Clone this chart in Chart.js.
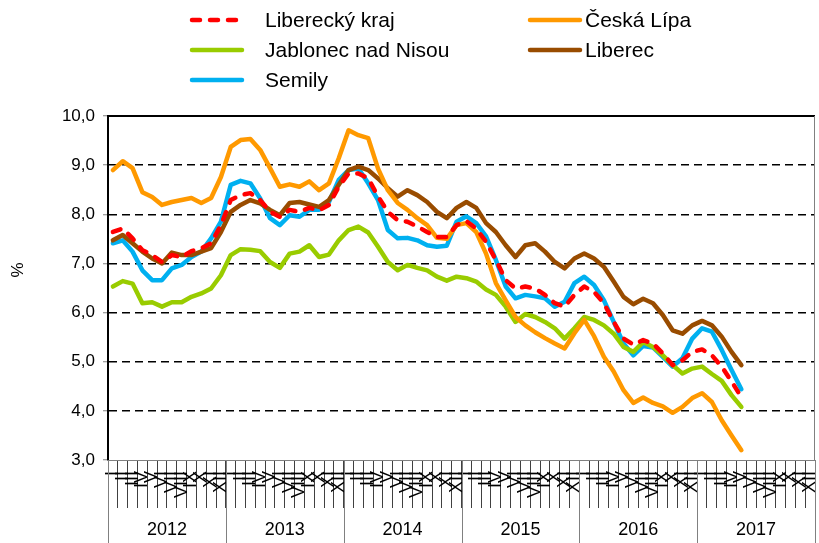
<!DOCTYPE html>
<html>
<head>
<meta charset="utf-8">
<script src="https://cdn.jsdelivr.net/npm/chart.js@4.4.1/dist/chart.umd.min.js"></script>
<style>
  html, body { margin: 0; padding: 0; background: #fff; }
  canvas { display: block; }
</style>
</head>
<body>
<canvas id="chart" width="819" height="543"></canvas>
<script>
// monthly values Jan 2012 - May 2017 (%)
const years = ['2012', '2013', '2014', '2015', '2016', '2017'];
const months = ['I', 'II', 'III', 'IV', 'V', 'VI', 'VII', 'VIII', 'IX', 'X', 'XI', 'XII'];
const yTicks = [3, 4, 5, 6, 7, 8, 9, 10];

const libereckyKraj = [
  7.64, 7.71, 7.51, 7.27, 7.17, 7.03, 7.17, 7.13, 7.25, 7.31, 7.41, 7.78,
  8.29, 8.39, 8.43, 8.29, 8.05, 7.95, 8.09, 8.05, 8.13, 8.08, 8.19, 8.56,
  8.83, 8.83, 8.73, 8.36, 8.05, 7.88, 7.85, 7.75, 7.64, 7.54, 7.54, 7.78,
  7.86, 7.71, 7.44, 7.07, 6.66, 6.49, 6.53, 6.49, 6.36, 6.19, 6.12, 6.36,
  6.53, 6.42, 6.19, 5.81, 5.47, 5.35, 5.44, 5.37, 5.17, 4.93, 5.03, 5.20,
  5.25, 5.13, 4.90, 4.60, 4.28
];
const ceskaLipa = [
  8.90, 9.08, 8.94, 8.45, 8.35, 8.19, 8.25, 8.29, 8.33, 8.23, 8.33, 8.76,
  9.37, 9.51, 9.53, 9.31, 8.94, 8.56, 8.61, 8.56, 8.67, 8.49, 8.63, 9.14,
  9.71, 9.61, 9.55, 8.93, 8.49, 8.23, 8.09, 7.92, 7.78, 7.52, 7.50, 7.78,
  7.82, 7.64, 7.20, 6.60, 6.25, 5.91, 5.74, 5.60, 5.48, 5.37, 5.27, 5.58,
  5.85, 5.52, 5.10, 4.80, 4.42, 4.16, 4.27, 4.16, 4.09, 3.96, 4.08, 4.26,
  4.36, 4.18, 3.81, 3.50, 3.20
];
const jablonec = [
  6.53, 6.64, 6.59, 6.19, 6.21, 6.12, 6.21, 6.21, 6.32, 6.39, 6.49, 6.76,
  7.17, 7.29, 7.28, 7.25, 7.03, 6.91, 7.20, 7.24, 7.37, 7.13, 7.18, 7.47,
  7.68, 7.75, 7.63, 7.34, 7.03, 6.86, 6.97, 6.91, 6.86, 6.73, 6.65, 6.73,
  6.70, 6.63, 6.47, 6.36, 6.12, 5.81, 5.97, 5.91, 5.81, 5.68, 5.47, 5.68,
  5.91, 5.85, 5.74, 5.57, 5.30, 5.20, 5.40, 5.30, 5.13, 4.93, 4.76, 4.86,
  4.90, 4.75, 4.61, 4.32, 4.08
];
const liberec = [
  7.47, 7.58, 7.41, 7.24, 7.10, 7.00, 7.22, 7.17, 7.17, 7.24, 7.31, 7.64,
  8.05, 8.19, 8.29, 8.22, 8.09, 7.98, 8.23, 8.25, 8.20, 8.15, 8.29, 8.60,
  8.90, 8.97, 8.90, 8.73, 8.53, 8.36, 8.49, 8.39, 8.25, 8.05, 7.92, 8.13,
  8.25, 8.13, 7.82, 7.64, 7.37, 7.13, 7.37, 7.41, 7.24, 7.03, 6.90, 7.10,
  7.20, 7.10, 6.93, 6.63, 6.32, 6.17, 6.28, 6.19, 5.95, 5.64, 5.57, 5.74,
  5.83, 5.74, 5.51, 5.20, 4.93
];
const semily = [
  7.41, 7.47, 7.24, 6.86, 6.66, 6.66, 6.90, 6.97, 7.13, 7.24, 7.51, 7.85,
  8.60, 8.68, 8.63, 8.32, 7.92, 7.78, 7.98, 7.95, 8.09, 8.09, 8.25, 8.70,
  8.90, 8.93, 8.63, 8.29, 7.68, 7.51, 7.52, 7.47, 7.37, 7.34, 7.36, 7.85,
  7.96, 7.82, 7.55, 7.07, 6.53, 6.29, 6.36, 6.33, 6.29, 6.12, 6.22, 6.60,
  6.73, 6.56, 6.25, 5.81, 5.37, 5.13, 5.32, 5.29, 5.10, 4.90, 5.07, 5.47,
  5.68, 5.61, 5.24, 4.83, 4.44
];

const labels = years.flatMap(() => months);
const FONT = '"Liberation Sans", Arial, sans-serif';
Chart.defaults.font.family = FONT;
Chart.defaults.color = '#000';

function series(label, data, color, dash) {
  return {
    label, data,
    borderColor: color,
    backgroundColor: color,
    borderWidth: 4.5,
    borderDash: dash || [],
    borderCapStyle: 'round',
    borderJoinStyle: 'round',
    pointRadius: 0,
    tension: 0,
    fill: false
  };
}

// legend in two columns, like the original
const legendPlugin = {
  id: 'colLegend',
  afterDraw(chart) {
    const ctx = chart.ctx;
    const slots = [[190, 20], [528, 20], [190, 50], [528, 50], [190, 80]];
    ctx.save();
    ctx.font = '21px ' + FONT;
    ctx.textBaseline = 'middle';
    chart.data.datasets.forEach((ds, i) => {
      const [x, y] = slots[i];
      ctx.strokeStyle = ds.borderColor;
      ctx.lineWidth = 4.5;
      ctx.lineCap = 'round';
      ctx.setLineDash(ds.borderDash);
      ctx.beginPath();
      ctx.moveTo(x + 2, y);
      ctx.lineTo(x + 52, y);
      ctx.stroke();
      ctx.setLineDash([]);
      ctx.fillStyle = '#000';
      ctx.fillText(ds.label, i % 2 ? x + 57 : x + 75, y + 1);
    });
    // axis unit
    ctx.translate(18, 270);
    ctx.rotate(-Math.PI / 2);
    ctx.font = '17px ' + FONT;
    ctx.textAlign = 'center';
    ctx.fillText('%', 0, 0);
    ctx.restore();
  }
};

// frame, year groups under month ticks
const framePlugin = {
  id: 'frame',
  beforeDatasetsDraw(chart) {
    const {ctx, chartArea: a, scales: {x}} = chart;
    ctx.save();
    ctx.strokeStyle = '#000';
    ctx.lineWidth = 2;
    ctx.beginPath();
    ctx.moveTo(a.left, a.top);
    ctx.lineTo(a.right, a.top);
    ctx.stroke();
    ctx.strokeStyle = '#808080';
    ctx.lineWidth = 1;
    ctx.beginPath();
    ctx.moveTo(a.right - 0.5, a.top);
    ctx.lineTo(a.right - 0.5, a.bottom);
    ctx.stroke();

    const cell = x.getPixelForValue(1) - x.getPixelForValue(0);
    ctx.font = '18px ' + FONT;
    ctx.fillStyle = '#000';
    ctx.textAlign = 'center';
    ctx.textBaseline = 'middle';
    for (let k = 0; k <= years.length; k++) {
      const px = Math.round(x.getPixelForValue(k * months.length) - cell / 2) + 0.5;
      ctx.beginPath();
      ctx.moveTo(px, a.bottom);
      ctx.lineTo(px, chart.height);
      ctx.stroke();
      if (k < years.length) {
        const mid = x.getPixelForValue(k * months.length) - cell / 2 + cell * months.length / 2;
        ctx.fillText(years[k], mid, 530);
      }
    }
    ctx.restore();
  }
};

new Chart(document.getElementById('chart'), {
  type: 'line',
  data: {
    labels,
    datasets: [
      series('Liberecký kraj', libereckyKraj, '#FF0000', [8, 10]),
      series('Česká Lípa', ceskaLipa, '#FF9900'),
      series('Jablonec nad Nisou', jablonec, '#99CC00'),
      series('Liberec', liberec, '#994C00'),
      series('Semily', semily, '#00B0F0')
    ]
  },
  options: {
    responsive: false,
    animation: false,
    layout: { padding: { top: 116, right: 4, left: 0, bottom: 0 } },
    plugins: { legend: { display: false }, tooltip: { enabled: false } },
    scales: {
      x: {
        offset: true,
        grid: {
          offset: true,
          drawOnChartArea: false,
          tickLength: 48,
          color: '#404040',
          lineWidth: 1
        },
        border: { color: '#808080', width: 1 },
        ticks: {
          autoSkip: false,
          minRotation: 90,
          maxRotation: 90,
          padding: -37,
          font: { size: 18 },
          color: '#000'
        },
        afterFit(s) { s.height = 83; }
      },
      y: {
        min: yTicks[0],
        max: yTicks[yTicks.length - 1],
        afterBuildTicks(s) { s.ticks = yTicks.map(v => ({ value: v })); },
        ticks: {
          padding: 8,
          font: { size: 17 },
          callback: v => v.toFixed(1).replace('.', ',')
        },
        grid: {
          color: c => (c.tick && (c.tick.value === 3 || c.tick.value === 10)) ? 'rgba(0,0,0,0)' : '#000',
          lineWidth: 1.5,
          tickColor: '#808080',
          tickLength: 5,
          tickWidth: 1,
          tickBorderDash: []
        },
        border: { color: '#000', width: 2, dash: [8, 5] },
        afterFit(s) { s.width = 108; }
      }
    }
  },
  plugins: [legendPlugin, framePlugin]
});
</script>
</body>
</html>
